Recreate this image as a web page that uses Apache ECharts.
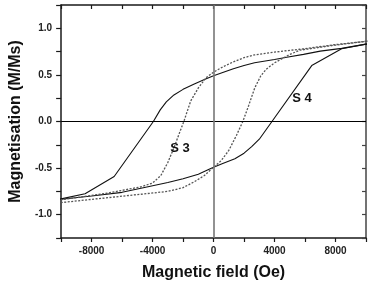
<!DOCTYPE html>
<html>
<head>
<meta charset="utf-8">
<script src="https://cdn.jsdelivr.net/npm/echarts@6/dist/echarts.min.js"></script>
<style>html,body{margin:0;padding:0;background:#fff}#c{width:377px;height:286px}</style>
</head>
<body>
<div id="c"></div>
<script>
// Field values (Oe) and normalised magnetisation (M/Ms)
const s4UpperH = [13000, 10000, 8400, 7000, 5900, 4800, 4000, 2690, 2000, 1300, 600, 0, -600, -1300, -2000, -2600, -3100, -3500, -3950, -6520, -8430, -10000, -13000];
const s4UpperM = [0.86, 0.83, 0.785, 0.755, 0.72, 0.69, 0.665, 0.63, 0.60, 0.565, 0.525, 0.49, 0.45, 0.40, 0.345, 0.285, 0.21, 0.125, 0.0, -0.59, -0.775, -0.83, -0.87];
const s4LowerH = [-13000, -10000, -8000, -6000, -4300, -3000, -2000, -1000, -400, 0, 600, 1400, 2000, 2500, 3000, 3830, 6440, 8400, 10000, 13000];
const s4LowerM = [-0.87, -0.835, -0.80, -0.76, -0.70, -0.655, -0.615, -0.565, -0.52, -0.49, -0.45, -0.40, -0.34, -0.27, -0.19, 0.0, 0.60, 0.78, 0.83, 0.86];
const s3UpperH = [13000, 10000, 8000, 5670, 4000, 2690, 2000, 1300, 600, 0, -490, -1000, -1500, -1950, -2300, -2570, -3000, -3460, -4000, -4740, -7000, -10000, -13000];
const s3UpperM = [0.90, 0.86, 0.825, 0.775, 0.745, 0.715, 0.685, 0.64, 0.585, 0.53, 0.47, 0.36, 0.22, 0.0, -0.15, -0.27, -0.44, -0.58, -0.66, -0.70, -0.77, -0.84, -0.88];
const s3LowerH = [-13000, -10000, -6500, -3000, -2000, -1300, -600, 0, 500, 1000, 1500, 1920, 2300, 2700, 3100, 3450, 4000, 4400, 5000, 5670, 8000, 10000, 13000];
const s3LowerM = [-0.91, -0.87, -0.81, -0.75, -0.71, -0.65, -0.58, -0.49, -0.42, -0.31, -0.15, 0.0, 0.17, 0.36, 0.49, 0.56, 0.63, 0.665, 0.72, 0.765, 0.82, 0.86, 0.90];
const sampleNames = ['S 4', 'S 3'];
const xTitle = 'Magnetic field (Oe)';
const yTitle = 'Magnetisation (M/Ms)';

const zip = (a, b) => a.map((v, i) => [v, b[i]]);
const labelAnchors = [[5800, 0.25], [-2200, -0.29]];

const font = '"Liberation Sans", Arial, sans-serif';
const chart = echarts.init(document.getElementById('c'), null, {renderer: 'canvas'});
const axisLine = {show: true, onZero: false, lineStyle: {color: '#1a1a1a', width: 1.5}};
const xFmt = v => (Math.round(v) % 4000 === 0 ? String(v) : '');
const yFmt = v => {
  const r = Math.round(v * 100);
  return (r % 50 === 0 && Math.abs(r) <= 100) ? (v).toFixed(1) : '';
};
chart.setOption({
  animation: false,
  backgroundColor: '#fff',
  grid: {left: 50, right: 11, top: 5, bottom: 47},
  xAxis: [{
    type: 'value', min: -10000, max: 10000, interval: 2000, position: 'bottom',
    axisLine: axisLine, splitLine: {show: false},
    axisTick: {show: true, inside: false, length: 4, lineStyle: {color: '#1a1a1a', width: 1.2}},
    axisLabel: {formatter: xFmt, color: '#222', fontSize: 10, fontWeight: 'bold', fontFamily: font, margin: 8},
    name: xTitle, nameLocation: 'middle', nameGap: 27,
    nameTextStyle: {fontSize: 16, fontWeight: 'bold', color: '#111', fontFamily: font}
  }, {
    type: 'value', min: -10000, max: 10000, interval: 2000, position: 'top',
    axisLine: axisLine, splitLine: {show: false},
    axisTick: {show: true, inside: true, length: 4, lineStyle: {color: '#1a1a1a', width: 1.2}},
    axisLabel: {show: false}
  }],
  yAxis: [{
    type: 'value', min: -1.25, max: 1.25, interval: 0.25, position: 'left',
    axisLine: axisLine, splitLine: {show: false},
    axisTick: {show: true, inside: false, length: 5, lineStyle: {color: '#1a1a1a', width: 1.2}},
    axisLabel: {formatter: yFmt, color: '#222', fontSize: 10, fontWeight: 'bold', fontFamily: font, margin: 9},
    name: yTitle, nameLocation: 'middle', nameGap: 35, nameRotate: 90,
    nameTextStyle: {fontSize: 16, fontWeight: 'bold', color: '#111', fontFamily: font}
  }, {
    type: 'value', min: -1.25, max: 1.25, interval: 0.25, position: 'right',
    axisLine: {show: true, onZero: false, lineStyle: {color: '#444', width: 1.5}}, splitLine: {show: false},
    axisTick: {show: true, inside: true, length: 4, lineStyle: {color: '#444', width: 1.2}},
    axisLabel: {show: false}
  }],
  series: [
    {type: 'line', name: 'S4 up', data: zip(s4UpperH, s4UpperM), showSymbol: false, clip: false, smooth: false,
     lineStyle: {color: '#111', width: 1.1}, z: 3,
     markLine: {silent: true, symbol: 'none', label: {show: false}, animation: false,
       data: [{yAxis: 0, lineStyle: {color: '#000', width: 1.2, type: 'solid'}},
              {xAxis: 0, lineStyle: {color: '#777', width: 1.6, type: 'solid'}}]}},
    {type: 'line', name: 'S4 down', data: zip(s4LowerH, s4LowerM), showSymbol: false, clip: false, smooth: false,
     lineStyle: {color: '#111', width: 1.1}, z: 3},
    {type: 'line', name: 'S3 up', data: zip(s3UpperH, s3UpperM), showSymbol: false, clip: false, smooth: false,
     lineStyle: {color: '#555', width: 1.3, type: [2, 1.5]}, z: 3},
    {type: 'line', name: 'S3 down', data: zip(s3LowerH, s3LowerM), showSymbol: false, clip: false, smooth: false,
     lineStyle: {color: '#555', width: 1.3, type: [2, 1.5]}, z: 3}
  ]
});
chart.setOption({
  graphic: labelAnchors.map((p, i) => {
    const px = chart.convertToPixel({xAxisIndex: 0, yAxisIndex: 0}, p);
    return {type: 'text', x: px[0], y: px[1], z: 10,
      style: {text: sampleNames[i], fill: '#111', font: 'bold 13px ' + font, textAlign: 'center', textVerticalAlign: 'middle'}};
  })
});
</script>
</body>
</html>
